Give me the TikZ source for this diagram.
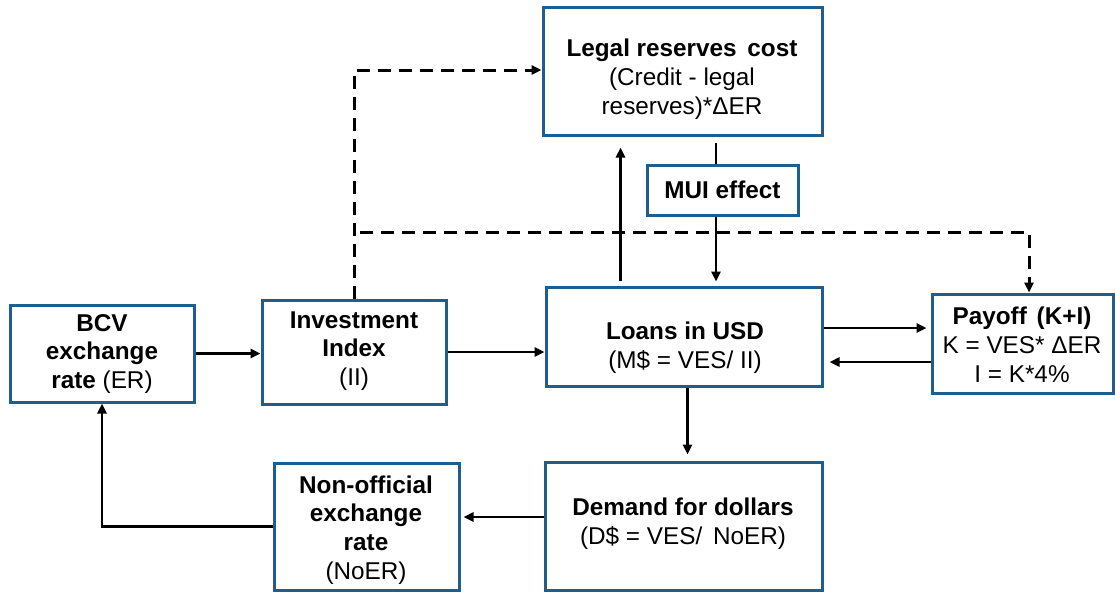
\documentclass[tikz,border=0pt]{standalone}
\usepackage{fontspec}
\setmainfont{Liberation Sans}
\usetikzlibrary{arrows.meta}
\definecolor{boxblue}{RGB}{31,94,140}
\begin{document}
\begin{tikzpicture}[x=1pt,y=-1pt,
  box/.style={draw=boxblue, line width=3pt, fill=white, inner sep=0pt},
  txt/.style={align=center, inner sep=0pt, font=\fontsize{24.3}{28.8}\selectfont},
  arr/.style={line width=2.7pt, -{Triangle[length=10pt,width=9pt]}},
  plainline/.style={line width=2.7pt},
  darr/.style={line width=3pt, dash pattern=on 13pt off 8pt, -{Triangle[length=10pt,width=9pt]}}]
\useasboundingbox (0,0) rectangle (1116,592);

% boxes
\node[box, minimum width=184pt, minimum height=97pt]  (bcv)    at (102,353.5) {};
\node[box, minimum width=184pt, minimum height=104pt] (ii)     at (354,352) {};
\node[box, minimum width=279pt, minimum height=128pt] (legal)  at (682.5,71) {};
\node[box, minimum width=151pt, minimum height=50pt]  (mui)    at (722.5,190) {};
\node[box, minimum width=276pt, minimum height=99pt]  (loans)  at (684,336.5) {};
\node[box, minimum width=181pt, minimum height=99pt]  (payoff) at (1022.5,343.5) {};
\node[box, minimum width=185pt, minimum height=127pt] (noer)   at (366.5,526.5) {};
\node[box, minimum width=277pt, minimum height=128pt] (demand) at (683.5,526) {};

% texts
\node[txt] (bcvT) at (102,354) {\textbf{BCV}\\\textbf{exchange}\\\textbf{rate} (ER)};
\node[txt] (iiT) at (354,351) {\textbf{Investment}\\\textbf{Index}\\(II)};
\node[txt] (legalT) at (682,79) {\textbf{Legal reserves\hspace{4pt} cost}\\(Credit - legal\\reserves)*ΔER};
\node[txt] (muiT) at (722.5,190) {\textbf{MUI effect}};
\node[txt] (loansT) at (685,348) {\textbf{Loans in USD}\\(M\$ = VES/ II)};
\node[txt] (payoffT) at (1022,345) {\textbf{Payoff\hspace{3pt} (K+I)}\\K = VES* ΔER\\I = K*4\%};
\node[txt] (noerT) at (366,530) {\textbf{Non-official}\\\textbf{exchange}\\\textbf{rate}\\(NoER)};
\node[txt] (demandT) at (683,524) {\textbf{Demand for dollars}\\(D\$ = VES/\hspace{4pt} NoER)};

% helper coordinates
\coordinate (lu) at ([xshift=76pt]loans.north west);
\coordinate (muiTop) at ([xshift=-6.5pt]mui.north);
\coordinate (muiBot) at ([xshift=-6.5pt]mui.south);
\coordinate (lp) at ([yshift=8.5pt]loans.east);
\coordinate (pl) at ([yshift=-18.5pt]payoff.west);
\coordinate (ld) at ([xshift=3.5pt]loans.south);
\coordinate (dn) at ([yshift=9pt]demand.west);
\coordinate (legalIn) at ([yshift=1pt]legal.west);
\coordinate (dstart) at (360,232);
\coordinate (pTop) at ([xshift=6.5pt]payoff.north);

% solid connectors
\draw[arr] (bcv.east) -- (bcv.east -| ii.west);
\draw[arr] (ii.east) -- (ii.east -| loans.west);
\draw[arr, shorten <=5pt, shorten >=11pt] (lu) -- (lu |- legal.south);
\draw[plainline, shorten >=6pt] (muiTop) -- (muiTop |- legal.south);
\draw[arr, shorten >=4pt] (muiBot) -- (muiBot |- loans.north);
\draw[arr, shorten >=4pt] (lp) -- (lp -| payoff.west);
\draw[arr, shorten >=6pt] (pl) -- (pl -| loans.east);
\draw[arr, shorten >=6pt] (ld) -- (ld |- demand.north);
\draw[arr, shorten >=3pt] (dn) -- (dn -| noer.east);
\draw[arr] (noer.west) -| (bcv.south);

% dashed connectors
\draw[darr] (ii.north) |- (legalIn);
\draw[darr] (dstart) -| (pTop);
\end{tikzpicture}
\end{document}
